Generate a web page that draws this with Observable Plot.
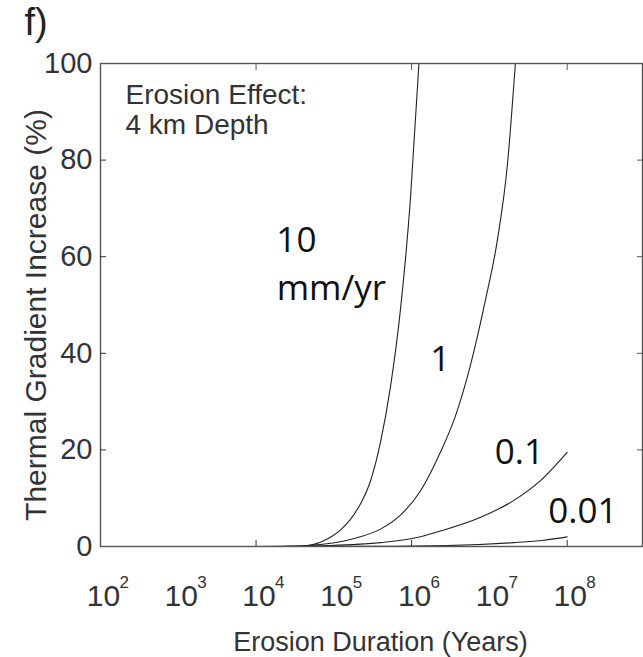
<!DOCTYPE html>
<html>
<head>
<meta charset="utf-8">
<script src="https://cdn.jsdelivr.net/npm/d3@7"></script>
<script src="https://cdn.jsdelivr.net/npm/@observablehq/plot@0.6"></script>
<style>
  body { margin: 0; background: #fff; }
  #chart svg { display: block; }
</style>
</head>
<body>
<div id="chart"></div>
<script>
// ---- Data ----
// Erosion duration (years) and thermal-gradient increase (%) per erosion rate
const rate10Years  = [4000, 20000, 37300, 50000, 67300, 90400, 121600, 163400, 219600, 295300, 397000, 534000, 718000, 966000, 1242000];
const rate10Values = [0,    0.01,  0.05,  0.3,   0.9,   1.9,   3.4,    5.6,    8.8,    13.5,   21.5,   33,     49,     72,     100];

const rate1Years  = [4000, 20000, 37300, 67300, 121600, 219600, 397000, 718000, 1298000, 2344000, 3655000, 5700000, 8890000, 12680000, 17030000, 21580000];
const rate1Values = [0,    0.01,  0.1,   0.4,   1.0,    2.0,    3.6,    6.5,    11.5,    19.5,    27,      37.5,    51,      63.5,     79,       100];

const rate01Years  = [4000, 20000, 91000, 400000, 1050000, 2340000, 7590000, 20400000, 45700000, 100000000];
const rate01Values = [0,    0.02,  0.2,   0.8,    1.7,     3.2,     6.0,     9.5,      13.7,     19.5];

const rate001Years  = [4000, 316000, 2880000, 20400000, 50000000, 100000000];
const rate001Values = [0,    0.05,   0.2,     0.8,      1.3,      2.0];

const curveLabels      = ["10", "mm/yr", "1", "0.1", "0.01"];
const curveLabelYears  = [33000, 93000, 2340000, 24300000, 159000000];
const curveLabelValues = [60.9, 51.0, 36.3, 17.0, 4.8];

const xTickExponents = [2, 3, 4, 5, 6, 7, 8];
const yTicks = [0, 20, 40, 60, 80, 100];
const innerXTicks = [1e4, 1e6, 1e8];
const innerYTicks = [20, 40, 60, 80];

const panelTitle = "f)";
const xTitle = "Erosion Duration (Years)";
const yTitle = "Thermal Gradient Increase (%)";
const noteText = "Erosion Effect:\n4 km Depth";

// ---- Build table ----
const series = [
  {rate: "10", years: rate10Years, values: rate10Values},
  {rate: "1", years: rate1Years, values: rate1Values},
  {rate: "0.1", years: rate01Years, values: rate01Values},
  {rate: "0.01", years: rate001Years, values: rate001Values}
];
const rows = series.flatMap(s => s.years.map((t, i) => ({rate: s.rate, t, v: s.values[i]})));

const narrow = "'Liberation Sans Narrow', 'Arial Narrow', 'Liberation Sans', Arial, sans-serif";
const sans = "'Liberation Sans', Arial, sans-serif";
const myriad = "'Open Sans', 'Noto Sans', sans-serif";
const blank = () => "";

const chart = Plot.plot({
  width: 643,
  height: 657,
  marginLeft: 100,
  marginRight: 1,
  marginTop: 63,
  marginBottom: 111,
  style: {fontFamily: sans, color: "#222", background: "#fff"},
  x: {type: "log", domain: [1e2, 9.3e8], axis: null},
  y: {domain: [0, 100], axis: null},
  marks: [
    Plot.line(rows, {x: "t", y: "v", z: "rate", stroke: "#222", strokeWidth: 1.1, curve: "monotone-x", clip: true}),
    Plot.frame({stroke: "#555", strokeWidth: 1.4}),
    // inward ticks
    Plot.axisX(innerXTicks, {anchor: "bottom", tickSize: -6, tickFormat: blank, label: null, stroke: "#333"}),
    Plot.axisX(innerXTicks, {anchor: "top", tickSize: -6, tickFormat: blank, label: null, stroke: "#555"}),
    Plot.axisY(innerYTicks, {anchor: "left", tickSize: -6, tickFormat: blank, label: null, stroke: "#333"}),
    Plot.axisY(innerYTicks, {anchor: "right", tickSize: -6, tickFormat: blank, label: null, stroke: "#555"}),
    // y tick labels
    Plot.axisY(yTicks, {anchor: "left", tickSize: 0, tickPadding: 8, label: null, fontSize: 29, fontFamily: narrow, fill: "#333"}),
    // x tick labels: 10 with superscript exponent
    Plot.text(xTickExponents, {x: e => 10 ** e, text: () => "10", frameAnchor: "bottom", dx: 3, dy: 59, lineAnchor: "bottom", fontSize: 30, fontFamily: narrow, fill: "#333"}),
    Plot.text(xTickExponents, {x: e => 10 ** e, text: e => String(e), frameAnchor: "bottom", dx: 19, dy: 41, lineAnchor: "bottom", textAnchor: "start", fontSize: 17, fontFamily: narrow, fill: "#333"}),
    // axis titles
    Plot.text([xTitle], {frameAnchor: "bottom", dx: 9, dy: 104, lineAnchor: "bottom", fontSize: 27, fontFamily: sans, fill: "#333"}),
    Plot.text([yTitle], {frameAnchor: "left", dx: -64, dy: 10, rotate: -90, textAnchor: "middle", lineAnchor: "middle", fontSize: 30, fontFamily: sans, fill: "#333"}),
    // panel title
    Plot.text([panelTitle], {frameAnchor: "top-left", dx: -76, dy: -29, lineAnchor: "bottom", textAnchor: "start", fontSize: 38, fontFamily: sans, fill: "#222"}),
    // annotation
    Plot.text([noteText], {frameAnchor: "top-left", dx: 25, dy: 70, lineAnchor: "bottom", textAnchor: "start", lineHeight: 1.07, fontSize: 28, fontFamily: sans, fill: "#333"}),
    // curve labels
    Plot.text(curveLabels, {x: (d, i) => curveLabelYears[i], y: (d, i) => curveLabelValues[i], text: d => d, lineAnchor: "bottom", fontSize: 35, fontFamily: myriad, fill: "#111"})
  ]
});
document.getElementById("chart").appendChild(chart);
</script>
</body>
</html>
